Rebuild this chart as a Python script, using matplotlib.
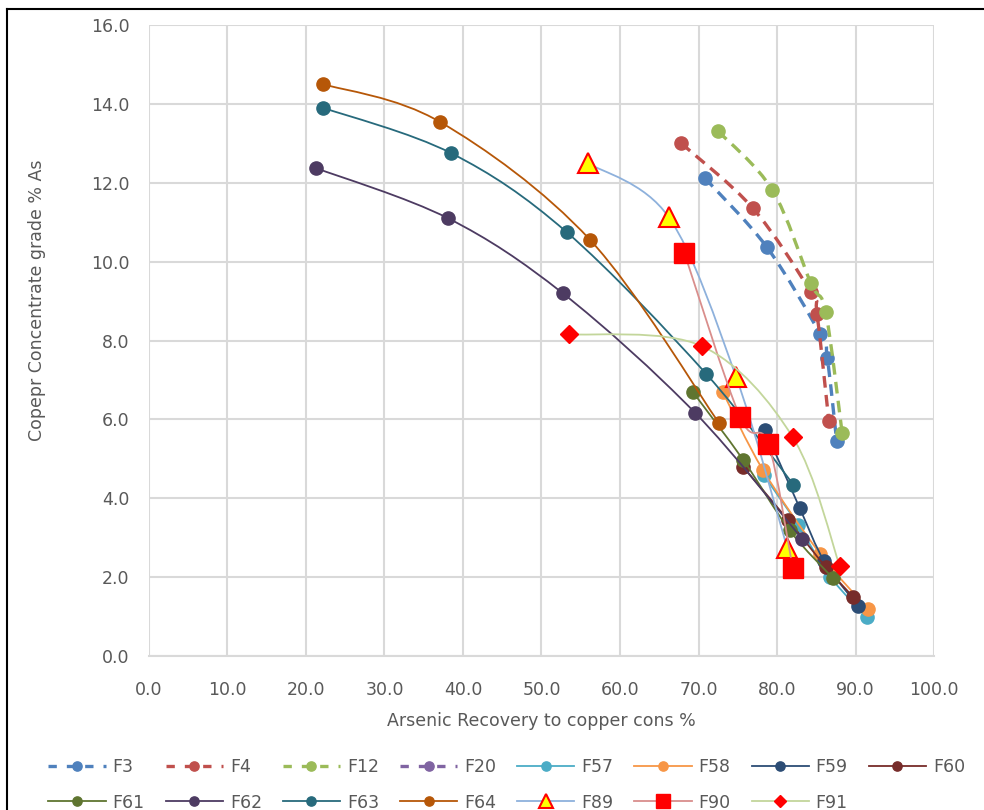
import numpy as np
import matplotlib.pyplot as plt
from matplotlib.path import Path
from matplotlib.patches import PathPatch
from matplotlib.lines import Line2D

# series values (x = As recovery %, y = concentrate grade % As)
f3_x = [70.8, 78.7, 85.5, 86.4, 87.6]
f3_y = [12.12, 10.37, 8.16, 7.56, 5.45]
f4_x = [67.8, 76.9, 84.3, 85.1, 86.6]
f4_y = [13.0, 11.36, 9.23, 8.67, 5.96]
f12_x = [72.5, 79.4, 84.3, 86.2, 88.3]
f12_y = [13.31, 11.82, 9.46, 8.72, 5.65]
f20_x = []
f20_y = []
f57_x = [78.3, 82.7, 86.8, 91.5]
f57_y = [4.59, 3.32, 2.00, 0.99]
f58_x = [73.1, 78.2, 85.5, 91.6]
f58_y = [6.69, 4.72, 2.59, 1.19]
f59_x = [78.5, 82.9, 86.0, 90.3]
f59_y = [5.73, 3.75, 2.41, 1.27]
f60_x = [75.7, 81.4, 86.2, 89.7]
f60_y = [4.79, 3.45, 2.26, 1.50]
f61_x = [69.3, 75.7, 81.6, 87.1]
f61_y = [6.69, 4.97, 3.19, 1.98]
f62_x = [21.3, 38.1, 52.7, 69.6, 83.2]
f62_y = [12.37, 11.10, 9.20, 6.16, 2.97]
f63_x = [22.2, 38.5, 53.2, 71.0, 82.1]
f63_y = [13.90, 12.75, 10.75, 7.15, 4.34]
f64_x = [22.2, 37.1, 56.2, 72.6]
f64_y = [14.50, 13.54, 10.55, 5.91]
f89_x = [55.9, 66.2, 74.8, 81.3]
f89_y = [12.50, 11.13, 7.07, 2.74]
f90_x = [68.2, 75.3, 78.9, 82.0]
f90_y = [10.22, 6.06, 5.38, 2.23]
f91_x = [53.5, 70.4, 82.0, 88.0]
f91_y = [8.16, 7.86, 5.55, 2.28]

names = ['F3', 'F4', 'F12', 'F20', 'F57', 'F58', 'F59', 'F60',
         'F61', 'F62', 'F63', 'F64', 'F89', 'F90', 'F91']
xs = [f3_x, f4_x, f12_x, f20_x, f57_x, f58_x, f59_x, f60_x,
      f61_x, f62_x, f63_x, f64_x, f89_x, f90_x, f91_x]
ys = [f3_y, f4_y, f12_y, f20_y, f57_y, f58_y, f59_y, f60_y,
      f61_y, f62_y, f63_y, f64_y, f89_y, f90_y, f91_y]

line_cols = ['#4F81BD', '#C0504D', '#9BBB59', '#8064A2', '#4BACC6', '#F79646',
             '#2C4D75', '#772C2A', '#5F7530', '#4D3B62', '#276A7C', '#B65708',
             '#8EB1DC', '#D98E8C', '#C3D69B']
dashed = [True, True, True, True] + [False] * 11


def smooth_path(x, y):
    # excel-like smoothed line: bezier segments through the points
    p = np.column_stack([x, y])
    n = len(p)
    verts = [p[0]]
    codes = [Path.MOVETO]
    for i in range(n - 1):
        p0 = p[i - 1] if i > 0 else p[i]
        p3 = p[i + 2] if i + 2 < n else p[i + 1]
        verts.append(p[i] + (p[i + 1] - p0) / 6.0)
        verts.append(p[i + 1] - (p3 - p[i]) / 6.0)
        verts.append(p[i + 1])
        codes += [Path.CURVE4] * 3
    return Path(verts, codes)


def marker_style(k):
    name = names[k]
    if name == 'F89':
        return dict(marker='^', ms=15, mfc='#FFFF00', mec='#FF0000', mew=1.5)
    if name == 'F90':
        return dict(marker='s', ms=14, mfc='#FF0000', mec='#FF0000', mew=1)
    if name == 'F91':
        return dict(marker='D', ms=9, mfc='#FF0000', mec='#FF0000', mew=1)
    return dict(marker='o', ms=9.5, mfc=line_cols[k], mec=line_cols[k], mew=1)


plt.rcParams['font.family'] = 'DejaVu Sans'
fig = plt.figure(figsize=(9.84, 8.10), dpi=100)
ax = fig.add_axes([0.1514, 0.1901, 0.7978, 0.7790])

handles = []
for k in range(len(names)):
    ls = (0, (3.5, 2.2)) if dashed[k] else '-'
    lw = 2.4 if dashed[k] else 1.3
    if len(xs[k]) > 1:
        patch = PathPatch(smooth_path(xs[k], ys[k]), fill=False, edgecolor=line_cols[k],
                          lw=lw, linestyle=ls, capstyle='butt', zorder=2 + k * 0.1)
        ax.add_patch(patch)
    ms = marker_style(k)
    if len(xs[k]) > 0:
        ax.plot(xs[k], ys[k], ls='none', zorder=2.05 + k * 0.1, **ms)
    lg = dict(ms)
    lg['ms'] = lg['ms'] * 0.7
    handles.append(Line2D([], [], color=line_cols[k], lw=lw,
                          ls=(0, (2.5, 3)) if dashed[k] else '-', **lg))

ax.set_xlim(0, 100)
ax.set_ylim(0, 16)
ax.set_xticks(np.arange(0, 101, 10))
ax.set_yticks(np.arange(0, 17, 2))
ax.set_xticklabels(['%.1f' % v for v in np.arange(0, 101, 10)])
ax.set_yticklabels(['%.1f' % v for v in np.arange(0, 17, 2)])
ax.grid(True, color='#D9D9D9', lw=1.5)
ax.set_axisbelow(True)
for s in ['top', 'right', 'left']:
    ax.spines[s].set_visible(False)
ax.spines['bottom'].set_color('#D9D9D9')
ax.spines['bottom'].set_linewidth(1.5)
ax.tick_params(length=0, labelsize=12.5, labelcolor='#595959')
ax.tick_params(axis='x', pad=18)
ax.tick_params(axis='y', pad=14)
ax.set_xlabel('Arsenic Recovery to copper cons %', fontsize=12.5, color='#595959', labelpad=9)
ax.set_ylabel('Copepr Concentrate grade % As', fontsize=12.5, color='#595959', labelpad=30)
ax.yaxis.set_label_coords(-0.131, 0.564)

# legend: two rows, matplotlib fills column-wise so interleave the entries
order = [0, 8, 1, 9, 2, 10, 3, 11, 4, 12, 5, 13, 6, 14, 7]
fig.legend([handles[i] for i in order], [names[i] for i in order],
           loc='center', bbox_to_anchor=(0.515, 0.031), ncol=8, frameon=False,
           fontsize=12.5, labelcolor='#595959', handlelength=3.3, handletextpad=0.4,
           columnspacing=1.2, labelspacing=1.0)

# outer frame (left and top edges visible in the screenshot)
fig.add_artist(Line2D([0.007, 0.007], [0.0, 0.989], color='black', lw=1.5,
                      transform=fig.transFigure))
fig.add_artist(Line2D([0.007, 1.0], [0.989, 0.989], color='black', lw=1.5,
                      transform=fig.transFigure))

fig.savefig('out.png', dpi=100)
